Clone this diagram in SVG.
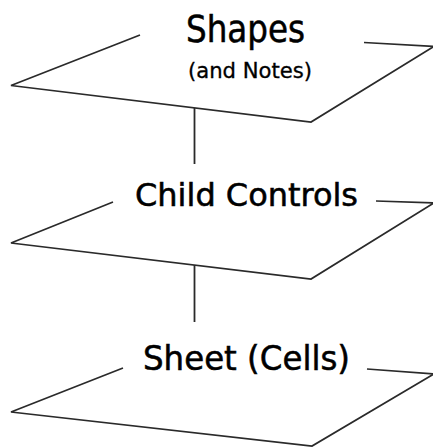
<svg xmlns="http://www.w3.org/2000/svg" width="433" height="448" viewBox="0 0 433 448">
<style>
.plane{fill:none;stroke:#2a2a2a;stroke-width:1.7;stroke-linejoin:miter}
.conn{fill:none;stroke:#2a2a2a;stroke-width:1.8}
text{font-family:"DejaVu Sans Condensed","DejaVu Sans",sans-serif;fill:#000;stroke:#000;stroke-width:0.5;text-anchor:middle}
</style>
<rect width="433" height="448" fill="#fff"/>
<g id="connectors">
<line class="conn" x1="194.5" y1="108" x2="194.5" y2="164"/>
<line class="conn" x1="194.5" y1="265" x2="194.5" y2="322"/>
</g>
<g id="shapes">
<path class="plane" d="M140,35 L11,85.5 L311,122 L434,46.5 L364,42.5"/>
<text x="245.5" y="42" font-size="38" textLength="119" lengthAdjust="spacingAndGlyphs">Shapes</text>
<text x="250" y="78" font-size="22" textLength="124" lengthAdjust="spacingAndGlyphs" style="stroke-width:0.3">(and Notes)</text>
</g>
<g id="child-controls">
<path class="plane" d="M113,202 L11,243 L311,279 L434,203 L376,201"/>
<text x="246.5" y="206" font-size="32" textLength="223" lengthAdjust="spacingAndGlyphs">Child Controls</text>
</g>
<g id="sheet">
<path class="plane" d="M123,368 L11,412 L312,446 L434,374 L367,369"/>
<text x="246.5" y="370" font-size="34" textLength="207" lengthAdjust="spacingAndGlyphs">Sheet (Cells)</text>
</g>
</svg>
